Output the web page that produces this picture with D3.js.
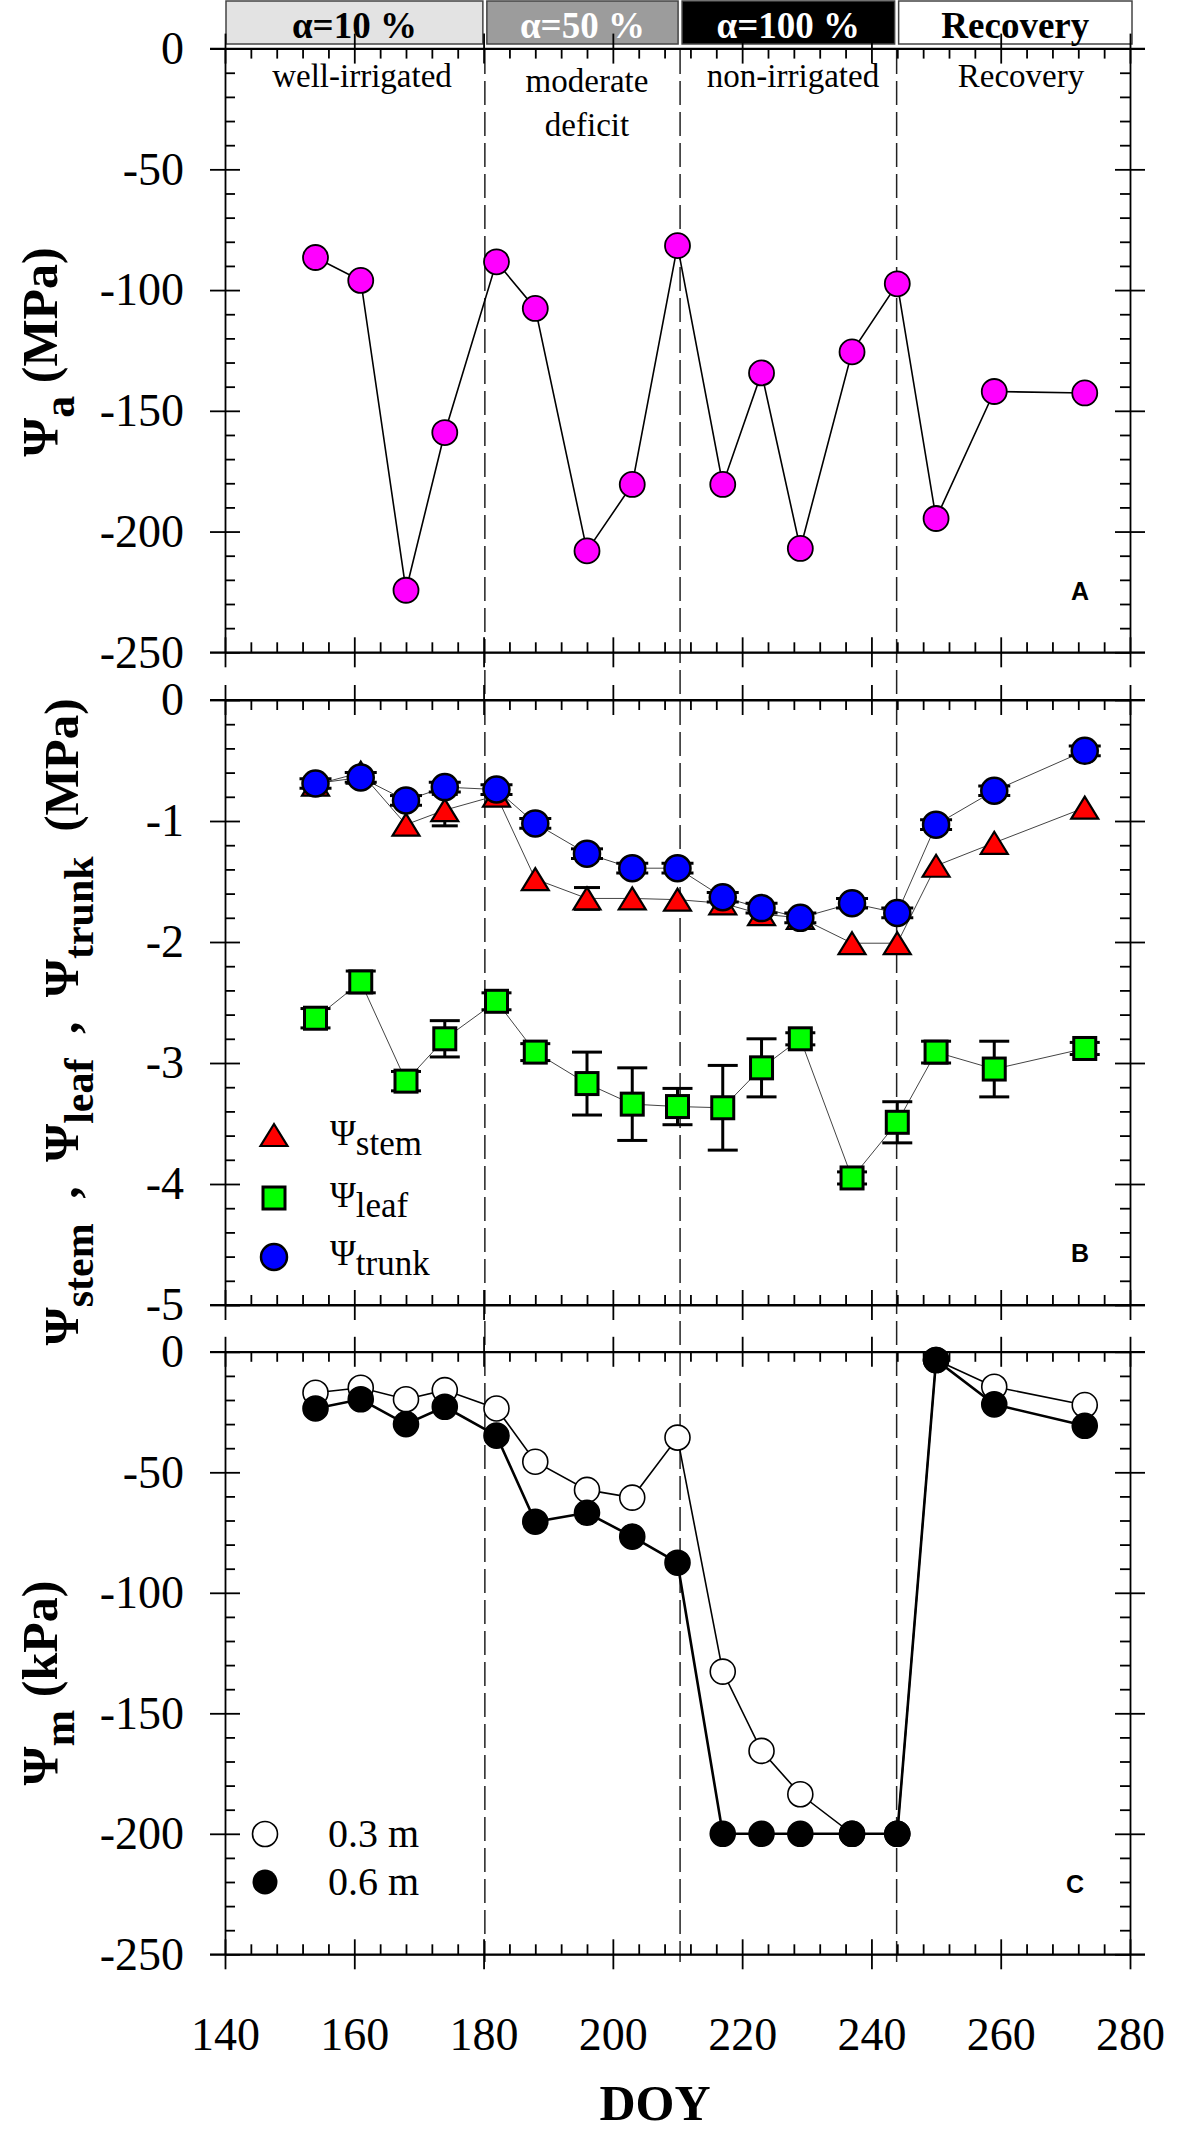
<!DOCTYPE html>
<html><head><meta charset="utf-8">
<script src="https://cdn.jsdelivr.net/npm/d3@7"></script>
<style>body{margin:0;background:#fff}svg{display:block}text{white-space:pre;font-family:'Liberation Serif','Times New Roman',serif}</style>
</head><body>
<svg id="c" width="1181" height="2138"></svg>
<script>
// ---------------- data ----------------
const doy = [154,161,168,174,182,188,196,203,210,217,223,229,237,244,250,259,273];
const psiA = [-86.5,-96,-224.3,-159,-88.3,-107.6,-208,-180.5,-81.6,-180.5,-134.3,-207,-125.6,-97.4,-194.6,-142,-142.6];
const psiStem = [-0.70,-0.60,-1.03,-0.91,-0.79,-1.48,-1.64,-1.64,-1.65,-1.68,-1.77,-1.80,-2.01,-2.01,-1.37,-1.18,-0.89];
const errStem = [0,0,0,0.13,0,0,0.09,0,0,0,0,0,0,0,0,0,0];
const psiLeaf = [-2.63,-2.33,-3.15,-2.80,-2.49,-2.91,-3.17,-3.34,-3.36,-3.37,-3.04,-2.80,-3.95,-3.49,-2.91,-3.05,-2.88];
const errLeaf = [0.08,0.09,0.08,0.15,0.07,0.07,0.26,0.30,0.15,0.35,0.24,0.05,0.05,0.17,0.09,0.23,0.05];
const psiTrunk = [-0.69,-0.64,-0.83,-0.72,-0.74,-1.02,-1.27,-1.39,-1.39,-1.63,-1.72,-1.80,-1.68,-1.76,-1.03,-0.75,-0.42];
const errTrunk = [0.04,0.04,0.04,0.04,0.04,0.04,0.04,0.04,0.04,0.04,0.04,0.04,0.04,0.04,0.04,0.04,0.04];
const psiM03 = [-17,-14.9,-19.7,-15.9,-23.5,-45.6,-57.3,-60.5,-35.6,-132.7,-165.6,-183.6,-200,-200,-3.4,-14.5,-22.1];
const psiM06 = [-23.5,-19.7,-30,-22.8,-34.8,-70.5,-66.8,-76.7,-87.5,-200,-200,-200,-200,-200,-3.4,-21.8,-30.7];
const phaseBounds = [180.2, 210.4, 243.9];
const phaseLabels = ["α=10 %","α=50 %","α=100 %","Recovery"];
const periodLabels = ["well-irrigated","moderate","deficit","non-irrigated","Recovery"];
const xTicks = [140,160,180,200,220,240,260,280];
const yTicksA = [0,-50,-100,-150,-200,-250];
const yTicksB = [0,-1,-2,-3,-4,-5];
const yTicksC = [0,-50,-100,-150,-200,-250];

// ---------------- layout ----------------
const svg = d3.select("#c");
const L = 225, R = 1130;
const x = d3.scaleLinear().domain([140,280]).range([L,R]);
const yA = d3.scaleLinear().domain([0,-250]).range([48.6,652.3]);
const yB = d3.scaleLinear().domain([0,-5]).range([700,1305]);
const yC = d3.scaleLinear().domain([0,-250]).range([1351.8,1954.3]);
const serif = "'Liberation Serif','Times New Roman',serif";
const sans = "'Liberation Sans',Arial,sans-serif";

// header boxes
const boxEdges = [140, ...phaseBounds, 280];
const boxFill = ["#e3e3e3","#9c9c9c","#000000","#ffffff"];
const boxText = ["#000","#fff","#fff","#000"];
const hdr = svg.append("g");
for (let i=0;i<4;i++){
  const x0 = x(boxEdges[i]) + (i===0?1:2), x1 = x(boxEdges[i+1]) - (i===3?-2:2);
  hdr.append("rect").attr("x",x0).attr("y",1).attr("width",x1-x0).attr("height",43)
    .attr("fill",boxFill[i]).attr("stroke","#444").attr("stroke-width",1.5);
  hdr.append("text").attr("x",(x0+x1)/2).attr("y",38).attr("text-anchor","middle")
    .style("font-family",serif).attr("font-weight","bold").attr("font-size",37)
    .attr("fill",boxText[i]).text(phaseLabels[i]);
}

// dashed phase lines
svg.append("g").selectAll("line").data(phaseBounds).join("line")
  .attr("x1",d=>x(d)).attr("x2",d=>x(d)).attr("y1",50).attr("y2",1962)
  .attr("stroke","#222").attr("stroke-width",1.5).attr("stroke-dasharray","24,7");

// axes helper
function range(a,b,s){const r=[];for(let v=a;v<=b+1e-9;v+=s)r.push(+v.toFixed(6));return r;}
const xMinor = range(140,280,4).filter(v=>(v-140)%20!==0);
function drawPanel(y, yMajor, yMinorStep, labelsX){
  const g = svg.append("g");
  const top = y.range()[0], bot = y.range()[1];
  const dom = y.domain();
  const yMinor = range(Math.min(...dom),Math.max(...dom),yMinorStep).filter(v=>!yMajor.some(m=>Math.abs(m-v)<1e-6));
  const st = sel=>sel.call(s=>s.selectAll("path,line").attr("stroke","#000").attr("stroke-width",1.8));
  const fmt = d=>String(d);
  const txt = s=>s.attr("font-family",null).selectAll("text").style("font-family",serif).attr("font-size",46).attr("fill","#000");
  // left axis
  g.append("g").attr("transform",`translate(${L},0)`)
    .call(d3.axisLeft(y).tickValues(yMajor).tickSizeInner(15).tickSizeOuter(0).tickPadding(26).tickFormat(fmt))
    .call(st).call(txt);
  g.append("g").attr("transform",`translate(${L},0)`)
    .call(d3.axisLeft(y).tickValues(yMajor).tickSizeInner(-15).tickSizeOuter(0).tickFormat(""))
    .call(st).call(s=>s.select(".domain").remove());
  g.append("g").attr("transform",`translate(${L},0)`)
    .call(d3.axisLeft(y).tickValues(yMinor).tickSizeInner(-10).tickSizeOuter(0).tickFormat(""))
    .call(st).call(s=>s.select(".domain").remove());
  // right axis
  g.append("g").attr("transform",`translate(${R},0)`)
    .call(d3.axisRight(y).tickValues(yMajor).tickSizeInner(15).tickSizeOuter(0).tickFormat(""))
    .call(st);
  g.append("g").attr("transform",`translate(${R},0)`)
    .call(d3.axisRight(y).tickValues(yMajor).tickSizeInner(-15).tickSizeOuter(0).tickFormat(""))
    .call(st).call(s=>s.select(".domain").remove());
  g.append("g").attr("transform",`translate(${R},0)`)
    .call(d3.axisRight(y).tickValues(yMinor).tickSizeInner(-10).tickSizeOuter(0).tickFormat(""))
    .call(st).call(s=>s.select(".domain").remove());
  // top axis
  g.append("g").attr("transform",`translate(0,${top})`)
    .call(d3.axisTop(x).tickValues(xTicks).tickSizeInner(15).tickSizeOuter(0).tickFormat(""))
    .call(st);
  g.append("g").attr("transform",`translate(0,${top})`)
    .call(d3.axisTop(x).tickValues(xTicks).tickSizeInner(-15).tickSizeOuter(0).tickFormat(""))
    .call(st).call(s=>s.select(".domain").remove());
  g.append("g").attr("transform",`translate(0,${top})`)
    .call(d3.axisTop(x).tickValues(xMinor).tickSizeInner(-10).tickSizeOuter(0).tickFormat(""))
    .call(st).call(s=>s.select(".domain").remove());
  // bottom axis
  g.append("g").attr("transform",`translate(0,${bot})`)
    .call(d3.axisBottom(x).tickValues(xTicks).tickSizeInner(15).tickSizeOuter(0).tickPadding(48).tickFormat(labelsX?fmt:""))
    .call(st).call(txt);
  g.append("g").attr("transform",`translate(0,${bot})`)
    .call(d3.axisBottom(x).tickValues(xTicks).tickSizeInner(-15).tickSizeOuter(0).tickFormat(""))
    .call(st).call(s=>s.select(".domain").remove());
  g.append("g").attr("transform",`translate(0,${bot})`)
    .call(d3.axisBottom(x).tickValues(xMinor).tickSizeInner(-10).tickSizeOuter(0).tickFormat(""))
    .call(st).call(s=>s.select(".domain").remove());
  // axis lines extending past corners
  g.append("line").attr("x1",L-15).attr("x2",R+15).attr("y1",top).attr("y2",top).attr("stroke","#000").attr("stroke-width",1.8);
  g.append("line").attr("x1",L-15).attr("x2",R+15).attr("y1",bot).attr("y2",bot).attr("stroke","#000").attr("stroke-width",1.8);
  return g;
}
drawPanel(yA, yTicksA, 10, false);
drawPanel(yB, yTicksB, 0.2, false);
drawPanel(yC, yTicksC, 10, true);

// panel A text labels
const tA = svg.append("g").style("font-family",serif).attr("font-size",33).attr("text-anchor","middle").attr("fill","#000");
tA.append("text").attr("x",362).attr("y",87).text(periodLabels[0]);
tA.append("text").attr("x",587).attr("y",92).text(periodLabels[1]);
tA.append("text").attr("x",587).attr("y",136).text(periodLabels[2]);
tA.append("text").attr("x",793).attr("y",87).text(periodLabels[3]);
tA.append("text").attr("x",1021).attr("y",87).text(periodLabels[4]);

// panel letters
const pl = svg.append("g").attr("font-weight","bold").attr("font-size",25).attr("text-anchor","middle");
[["A",1080,600],["B",1080,1262],["C",1075,1893]].forEach(([t,px,py])=>{
  pl.append("text").attr("x",px).attr("y",py).style("font-family",sans).text(t);
});

// ---------- Panel A data ----------
const dataA = doy.map((d,i)=>({d, v:psiA[i]}));
svg.append("path").datum(dataA)
  .attr("d", d3.line().x(p=>x(p.d)).y(p=>yA(p.v)))
  .attr("fill","none").attr("stroke","#000").attr("stroke-width",1.6);
svg.append("g").selectAll("circle").data(dataA).join("circle")
  .attr("cx",p=>x(p.d)).attr("cy",p=>yA(p.v)).attr("r",12.5)
  .attr("fill","#ff00ff").attr("stroke","#000").attr("stroke-width",1.8);

// ---------- Panel B data ----------
function series(vals, errs){return doy.map((d,i)=>({d, v:vals[i], e:errs[i]}));}
const sStem = series(psiStem, errStem), sLeaf = series(psiLeaf, errLeaf), sTrunk = series(psiTrunk, errTrunk);
const lineB = d3.line().x(p=>x(p.d)).y(p=>yB(p.v));
[sStem, sLeaf, sTrunk].forEach(s=>{
  svg.append("path").datum(s).attr("d",lineB).attr("fill","none").attr("stroke","#444").attr("stroke-width",1);
});
function errBars(s, capW){
  const g = svg.append("g").attr("stroke","#000").attr("stroke-width",3);
  s.filter(p=>p.e>0).forEach(p=>{
    const cx=x(p.d), y1=yB(p.v+p.e), y2=yB(p.v-p.e);
    g.append("line").attr("x1",cx).attr("x2",cx).attr("y1",y1).attr("y2",y2);
    g.append("line").attr("x1",cx-capW/2).attr("x2",cx+capW/2).attr("y1",y1).attr("y2",y1);
    g.append("line").attr("x1",cx-capW/2).attr("x2",cx+capW/2).attr("y1",y2).attr("y2",y2);
  });
}
const triPath = (cx,cy)=>`M${cx},${cy-11}L${cx+13.5},${cy+11}L${cx-13.5},${cy+11}Z`;
errBars(sStem, 26);
svg.append("g").selectAll("path").data(sStem).join("path")
  .attr("d",p=>triPath(x(p.d),yB(p.v))).attr("fill","#ff0000").attr("stroke","#000").attr("stroke-width",2.2).attr("stroke-linejoin","miter");
errBars(sLeaf, 30);
svg.append("g").selectAll("rect").data(sLeaf).join("rect")
  .attr("x",p=>x(p.d)-11).attr("y",p=>yB(p.v)-11).attr("width",22).attr("height",22)
  .attr("fill","#00ff00").attr("stroke","#000").attr("stroke-width",3);
errBars(sTrunk, 32);
svg.append("g").selectAll("circle").data(sTrunk).join("circle")
  .attr("cx",p=>x(p.d)).attr("cy",p=>yB(p.v)).attr("r",13)
  .attr("fill","#0000ff").attr("stroke","#000").attr("stroke-width",2.5);

// legend B
const lg = svg.append("g");
lg.append("path").attr("d",triPath(274,1135)).attr("fill","#ff0000").attr("stroke","#000").attr("stroke-width",2.2);
lg.append("rect").attr("x",263).attr("y",1187).attr("width",22).attr("height",22).attr("fill","#00ff00").attr("stroke","#000").attr("stroke-width",3);
lg.append("circle").attr("cx",274).attr("cy",1257).attr("r",13).attr("fill","#0000ff").attr("stroke","#000").attr("stroke-width",2.5);
[["stem",1145],["leaf",1207],["trunk",1265]].forEach(([s,yb])=>{
  const t = lg.append("text").attr("x",330).attr("y",yb).style("font-family",serif).attr("font-size",35);
  t.append("tspan").text("Ψ");
  t.append("tspan").attr("dy",10).text(s);
});

// ---------- Panel C data ----------
const s03 = doy.map((d,i)=>({d,v:psiM03[i]})), s06 = doy.map((d,i)=>({d,v:psiM06[i]}));
const lineC = d3.line().x(p=>x(p.d)).y(p=>yC(p.v));
svg.append("path").datum(s03).attr("d",lineC).attr("fill","none").attr("stroke","#000").attr("stroke-width",1.6);
svg.append("path").datum(s06).attr("d",lineC).attr("fill","none").attr("stroke","#000").attr("stroke-width",2.6);
svg.append("g").selectAll("circle").data(s03).join("circle")
  .attr("cx",p=>x(p.d)).attr("cy",p=>yC(p.v)).attr("r",12.5).attr("fill","#fff").attr("stroke","#000").attr("stroke-width",1.6);
svg.append("g").selectAll("circle").data(s06).join("circle")
  .attr("cx",p=>x(p.d)).attr("cy",p=>yC(p.v)).attr("r",12.5).attr("fill","#000").attr("stroke","#000").attr("stroke-width",1.6);
// legend C
const lc = svg.append("g").attr("font-size",40);
lc.append("circle").attr("cx",265).attr("cy",1834).attr("r",12.5).attr("fill","#fff").attr("stroke","#000").attr("stroke-width",1.6);
lc.append("circle").attr("cx",265).attr("cy",1882).attr("r",12.5).attr("fill","#000");
lc.append("text").attr("x",328).attr("y",1847).style("font-family",serif).text("0.3 m");
lc.append("text").attr("x",328).attr("y",1895).style("font-family",serif).text("0.6 m");

// ---------- axis titles ----------
function yTitle(cx, cy, parts, mainSize, subSize, shift){
  const t = svg.append("text").attr("transform",`translate(${cx},${cy}) rotate(-90)`)
    .attr("text-anchor","middle").style("font-family",serif).attr("font-weight","bold").attr("font-size",mainSize);
  let cur = 0;
  parts.forEach(([txt,sub])=>{
    const target = sub?shift:0;
    const ts = t.append("tspan").text(txt).attr("dy",target-cur);
    if (sub) ts.attr("font-size",subSize);
    cur = target;
  });
}
yTitle(57, 352, [["Ψ",0],["a",1],[" (MPa)",0]], 50, 44, 17);
yTitle(78, 1022, [["Ψ",0],["stem",1],["  ,  Ψ",0],["leaf",1],["  ,  Ψ",0],["trunk",1],["  (MPa)",0]], 49, 42, 15);
yTitle(57, 1683, [["Ψ",0],["m",1],[" (kPa)",0]], 50, 44, 17);

// x title
svg.append("text").attr("x",655).attr("y",2120).attr("text-anchor","middle")
  .style("font-family",serif).attr("font-weight","bold").attr("font-size",50).text("DOY");
</script>
</body></html>
